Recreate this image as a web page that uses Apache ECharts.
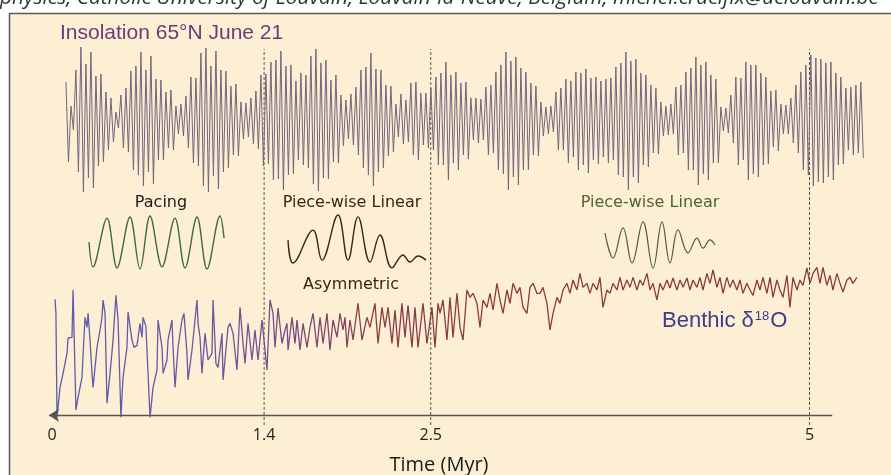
<!DOCTYPE html>
<html>
<head>
<meta charset="utf-8">
<script src="https://cdn.jsdelivr.net/npm/echarts@6/dist/echarts.min.js"></script>
<style>
html, body { margin: 0; padding: 0; background: #fff; }
#chart { width: 891px; height: 475px; }
</style>
</head>
<body>
<div id="chart"></div>
<script>
var chart = echarts.init(document.getElementById('chart'));

// benthic d18O stack, ages in kyr, values in permil
var benthicAge = [20,26,33,53,73,86,99,106,119,132,139,158,172,198,205,218,231,238,251,264,
  271,297,317,330,337,350,363,383,403,422,436,455,469,495,502,528,541,561,581,594,
  601,620,647,667,693,700,726,733,759,766,792,799,812,832,858,871,891,898,924,957,
  964,977,990,1010,1030,1056,1063,1082,1096,1122,1129,1162,1175,1195,1221,1241,1261,1274,1294,1320,
  1340,1360,1386,1419,1439,1459,1472,1492,1518,1538,1551,1558,1584,1604,1617,1637,1657,1683,1703,1723,
  1749,1769,1789,1815,1835,1855,1881,1901,1921,1934,1947,1967,1987,2020,2046,2079,2099,2132,2152,2178,
  2198,2218,2244,2264,2284,2310,2330,2350,2376,2396,2416,2449,2475,2508,2528,2548,2561,2581,2607,2627,
  2647,2673,2693,2713,2739,2759,2779,2805,2825,2845,2871,2891,2911,2937,2957,2977,3003,3023,3043,3069,
  3089,3109,3135,3155,3175,3201,3221,3241,3267,3287,3307,3333,3353,3373,3399,3419,3439,3465,3485,3505,
  3531,3551,3571,3597,3617,3637,3663,3683,3703,3729,3749,3769,3795,3815,3835,3861,3881,3901,3927,3947,
  3967,3993,4013,4033,4059,4079,4099,4125,4145,4165,4191,4211,4231,4257,4277,4297,4323,4343,4363,4389,
  4409,4429,4455,4475,4495,4521,4541,4561,4587,4607,4627,4653,4673,4693,4719,4739,4759,4785,4805,4825,
  4851,4871,4891,4917,4937,4957,4983,5003,5023,5049,5069,5089,5115,5135,5155,5181,5201,5221,5247,5267,
  5287,5313];
var benthicD18O = [3.29,3.50,5.06,4.61,4.40,4.38,4.10,3.87,3.90,3.86,3.15,4.95,4.76,4.46,4.13,3.56,3.71,3.50,3.90,4.40,
  4.61,4.01,3.75,3.56,3.30,3.50,4.85,4.40,3.90,3.23,3.60,5.06,4.46,4.01,3.48,3.90,4.01,3.98,3.65,3.86,
  3.56,3.70,5.06,4.61,4.35,3.60,4.01,4.40,4.20,3.90,3.60,4.01,4.61,4.01,3.60,3.50,4.10,4.50,4.05,3.30,
  3.65,3.86,4.40,3.80,4.20,4.10,3.30,4.25,4.31,3.80,4.50,3.71,3.65,3.80,4.35,3.41,3.95,4.25,3.65,4.20,
  3.75,4.20,3.60,4.35,3.30,3.50,4.01,3.42,3.95,3.75,3.65,4.05,3.56,3.95,3.60,4.05,3.65,4.01,3.71,3.50,
  4.01,3.56,3.95,3.50,4.05,3.60,3.86,3.50,3.75,3.56,4.01,3.60,3.90,3.35,3.90,3.56,3.71,3.35,3.95,3.41,
  3.71,3.41,3.95,3.45,4.01,3.35,3.86,3.38,4.01,3.41,4.01,3.35,3.95,3.41,4.01,3.35,3.50,3.30,3.90,3.26,
  3.86,3.20,3.71,3.90,3.15,3.26,3.20,3.35,3.71,3.30,3.41,3.20,3.45,3.05,3.30,3.50,3.15,3.35,3.05,3.20,
  3.11,3.41,3.50,3.11,3.05,3.20,3.20,3.11,3.35,3.75,3.50,3.26,3.35,3.15,3.05,3.20,3.00,3.15,2.90,3.11,
  3.05,3.20,3.05,3.15,2.96,3.41,3.15,3.20,3.05,3.15,2.96,3.15,3.00,3.11,2.96,3.15,3.00,3.08,2.90,3.15,
  3.05,3.30,3.05,3.15,3.00,3.12,2.97,3.15,3.00,3.11,2.97,3.15,3.00,3.11,2.96,3.15,2.90,3.05,2.85,3.11,
  2.96,3.20,2.96,3.11,3.00,3.15,3.00,3.20,3.05,3.15,3.23,3.00,3.15,2.96,3.20,2.96,3.26,3.00,3.15,3.26,
  2.93,3.41,2.96,3.15,3.00,3.08,2.82,3.05,2.90,2.81,3.05,2.81,3.08,2.93,3.15,2.90,3.05,3.18,3.00,2.96,
  3.05,2.96];

// insolation 65N June 21, W/m2, one value every 16.5 kyr from 92 kyr
var insolStart = 92, insolStep = 16.5;
var insolation = [518,438,494,470,530,428,553,408,536,422,548,412,524,434,526,438,508,450,502,458,
  488,472,505,452,512,448,529,430,534,425,548,414,530,428,544,416,521,440,520,440,
  508,452,510,450,494,466,496,464,504,452,523,437,522,434,547,414,552,408,534,424,
  549,411,530,428,529,432,514,445,516,444,498,461,497,463,502,456,509,451,525,434,
  526,436,538,420,540,421,549,410,534,425,535,426,519,440,527,435,525,432,544,416,
  551,409,537,422,540,421,520,438,525,437,505,454,500,461,506,455,513,445,530,432,
  533,425,547,414,531,428,530,432,515,444,514,448,496,463,506,456,500,458,517,445,
  518,440,507,455,507,452,512,450,523,435,527,435,538,420,525,437,528,430,517,445,
  518,441,502,460,502,457,501,460,513,445,515,447,528,430,535,426,548,410,539,423,
  543,415,532,430,528,430,517,445,514,444,498,464,493,466,494,468,508,450,512,450,
  521,437,519,443,528,430,527,435,531,427,522,440,523,436,519,443,521,437,522,440,
  533,425,537,423,548,410,539,423,541,417,527,435,525,433,515,447,512,446,498,464,
  494,465,496,466,513,445,515,447,528,430,532,430,543,415,535,426,538,420,525,437,
  521,437,493,469,492,467,505,457,523,435,522,440,538,420,535,426,535,423,527,435,
  523,436,509,453,510,449,496,466,495,466,502,457,515,447,528,430,535,425,545,414,
  542,418,541,417,537,423,538,420,527,435,523,436,512,450,513,445,515,447,518,442];

var boundaries = [1.4, 2.5, 5];   // Myr
var tickValues = [0, 1.4, 2.5, 5];
var axisFrom = -0.02, axisTo = 5.15; // extent of the time axis line

// small sketch curves (arbitrary time, normalised amplitude)
var pacingT = [0,4,18,28,41,51,61,73,86,96,108,118,131,135];
var pacingY = [0.02,-0.92,0.92,-0.96,0.96,-1,1,-0.92,0.92,-0.96,0.96,-1,1,0.17];
var asymT = [0,5,25,34,50,60,70,82,92,104,115,122,130,138];
var asymY = [0.07,-0.78,0.44,-0.67,1,-0.67,0.93,-0.74,0.26,-0.96,-0.48,-0.74,-0.52,-0.67];
var pwlT = [0,8,18,27,38,48,57,65,73,83,92,98,105,110];
var pwlY = [0.5,-0.54,0.71,-0.75,0.96,-0.96,0.96,-0.75,0.63,-0.33,0.29,-0.13,0.21,0];

function zip(a, b) {
  var out = [];
  for (var i = 0; i < Math.min(a.length, b.length); i++) out.push([a[i], b[i]]);
  return out;
}

var benthicData = zip(benthicAge.map(function (a) { return a / 1000; }), benthicD18O);
var insolData = insolation.map(function (v, i) { return [(insolStart + i * insolStep) / 1000, v]; });

var tMin = -0.1, tMax = 5.4;
var gl = 36.85, gw = 833.25;

var grids = [
  { left: gl, width: gw, top: 40, height: 160 },
  { left: gl, width: gw, top: 250, height: 166 },
  { left: gl, width: gw, top: 49, height: 376 },
  { left: 89, width: 135, top: 216, height: 53 },
  { left: 288, width: 138, top: 215, height: 54 },
  { left: 605, width: 110, top: 221, height: 48 }
];
grids.forEach(function (g) { g.outerBoundsMode = 'none'; g.containLabel = false; });

var xAxes = [
  { type: 'value', gridIndex: 0, min: tMin, max: tMax, show: false },
  {
    type: 'value', gridIndex: 1, min: tMin, max: tMax,
    axisLine: { show: false },
    axisTick: { show: false },
    splitLine: { show: false },
    axisLabel: {
      customValues: tickValues, margin: 11,
      color: '#222', fontSize: 16, fontFamily: 'Open Sans',
      formatter: function (v) { return String(v); }
    }
  },
  { type: 'value', gridIndex: 2, min: tMin, max: tMax, show: false },
  { type: 'value', gridIndex: 3, min: 0, max: 135, show: false },
  { type: 'value', gridIndex: 4, min: 0, max: 138, show: false },
  { type: 'value', gridIndex: 5, min: 0, max: 110, show: false }
];

var yAxes = [
  { type: 'value', gridIndex: 0, min: 400, max: 560, show: false },
  { type: 'value', gridIndex: 1, min: 2.55, max: 5.04, inverse: true, show: false },
  { type: 'value', gridIndex: 2, min: 0, max: 1, show: false },
  { type: 'value', gridIndex: 3, min: -1, max: 1, show: false },
  { type: 'value', gridIndex: 4, min: -1, max: 1, show: false },
  { type: 'value', gridIndex: 5, min: -1, max: 1, show: false }
];

var series = [];
boundaries.forEach(function (b) {
  series.push({
    type: 'line', xAxisIndex: 2, yAxisIndex: 2, data: [[b, 0], [b, 1]],
    symbol: 'none', silent: true, z: 1,
    lineStyle: { color: '#555', width: 1, type: [3, 2] }
  });
});
series.push({
  name: 'Insolation', type: 'line', xAxisIndex: 0, yAxisIndex: 0, data: insolData,
  symbol: 'none', clip: false, z: 3,
  lineStyle: { color: '#74647e', width: 1 }
});
series.push({
  name: 'Benthic', type: 'line', xAxisIndex: 1, yAxisIndex: 1, data: benthicData,
  symbol: 'none', clip: false, z: 3,
  lineStyle: {
    width: 1.3,
    color: new echarts.graphic.LinearGradient(0, 1, 0.55, 0, [
      { offset: 0, color: '#5a5cb2' },
      { offset: 0.4, color: '#6b57a2' },
      { offset: 0.6, color: '#80456f' },
      { offset: 0.72, color: '#8b3b46' },
      { offset: 1, color: '#8b3a3e' }
    ])
  },
  markLine: {
    silent: true, animation: false,
    symbol: ['none', 'arrow'], symbolSize: 10,
    label: { show: false },
    lineStyle: { color: '#555', width: 1.3, type: 'solid' },
    data: [[{ coord: [axisTo, 5.03] }, { coord: [axisFrom, 5.03] }]]
  }
});
series.push({
  type: 'line', xAxisIndex: 3, yAxisIndex: 3, data: zip(pacingT, pacingY),
  symbol: 'none', smooth: 0.35, clip: false, lineStyle: { color: '#3e6b3e', width: 1.4 }
});
series.push({
  type: 'line', xAxisIndex: 4, yAxisIndex: 4, data: zip(asymT, asymY),
  symbol: 'none', smooth: 0.4, clip: false, lineStyle: { color: '#3d2418', width: 1.4 }
});
series.push({
  type: 'line', xAxisIndex: 5, yAxisIndex: 5, data: zip(pwlT, pwlY),
  symbol: 'none', smooth: 0.4, clip: false, lineStyle: { color: '#4a5e40', width: 1.2 }
});

function label(text, x, y, opts) {
  return {
    type: 'text', x: x, y: y, z: 100, silent: true,
    style: Object.assign({
      text: text, fontSize: 16, fontFamily: 'DejaVu Sans', fill: '#222',
      align: 'center', verticalAlign: 'middle'
    }, opts || {})
  };
}

chart.setOption({
  animation: false,
  backgroundColor: '#fff',
  grid: grids,
  xAxis: xAxes,
  yAxis: yAxes,
  series: series,
  graphic: [
    {
      type: 'rect', z: -10, silent: true,
      shape: { x: 9.5, y: 13.5, width: 900, height: 480 },
      style: { fill: '#fdefd3', stroke: '#5a5a5a', lineWidth: 1.5 }
    },
    label('physics, Catholic University of Louvain, Louvain-la-Neuve, Belgium, michel.crucifix@uclouvain.be', 0, 9, {
      align: 'left', verticalAlign: 'bottom', fontFamily: 'Open Sans', fontStyle: 'italic', fontSize: 20.8, fill: '#333'
    }),
    label('Insolation 65°N June 21', 60, 33, {
      align: 'left', fontFamily: 'Liberation Sans', fontSize: 21, fill: '#6b3b78'
    }),
    label('Pacing', 161, 203, { fill: '#1a1a1a' }),
    label('Piece-wise Linear', 352, 203, { fill: '#3b2415' }),
    label('Asymmetric', 351, 285, { fill: '#3b2415' }),
    label('Piece-wise Linear', 650, 203, { fill: '#4f6238' }),
    {
      type: 'text', x: 662, y: 321, z: 100, silent: true,
      style: {
        text: '{a|Benthic δ}{s|18}{a|O}', align: 'left', verticalAlign: 'middle',
        rich: {
          a: { fontSize: 22, fontFamily: 'Liberation Sans', fill: '#3d3d8f', color: '#3d3d8f' },
          s: { fontSize: 13, fontFamily: 'Liberation Sans', fill: '#3d3d8f', color: '#3d3d8f', verticalAlign: 'top', padding: [0, 1, 0, 1] }
        }
      }
    },
    label('Time (Myr)', 439, 465, { fontFamily: 'Open Sans', fontSize: 20, fill: '#1a1a1a' })
  ]
});

window.addEventListener('resize', function () { chart.resize(); });
</script>
</body>
</html>
